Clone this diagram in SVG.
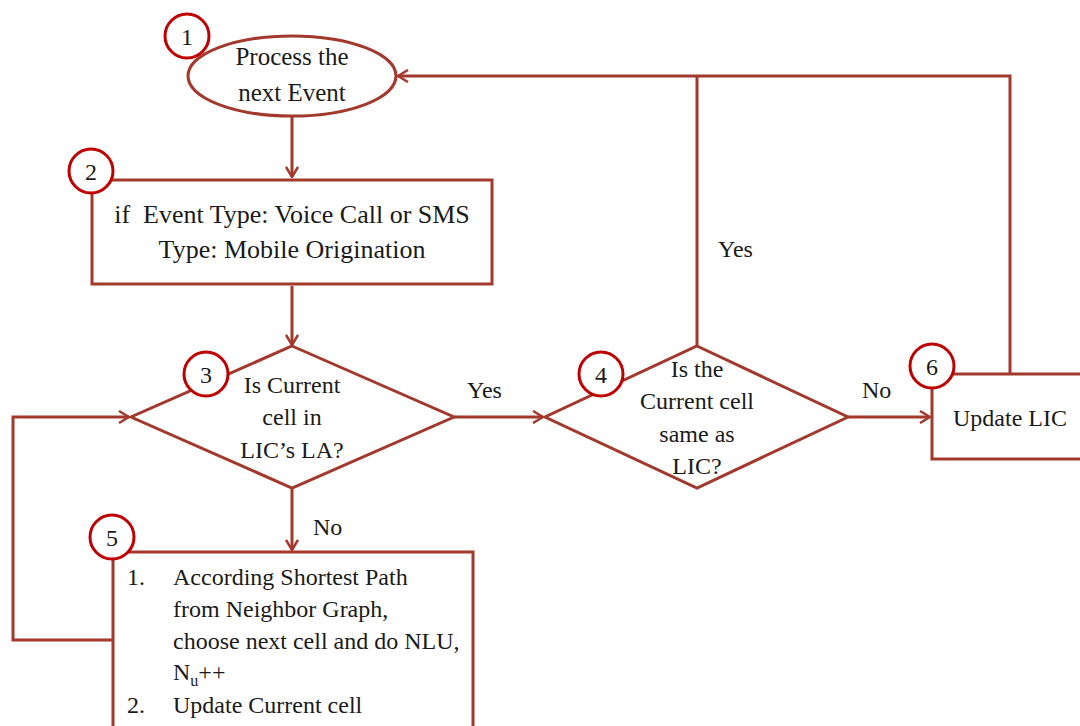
<svg xmlns="http://www.w3.org/2000/svg" width="1080" height="726" viewBox="0 0 1080 726">
<defs>
<style>
.s{fill:#fff;stroke:#a3392d;stroke-width:3}
.c{fill:none;stroke:#a3392d;stroke-width:3}
.n{fill:#fff;stroke:#c00000;stroke-width:3}
text{font-family:"Liberation Serif","Times New Roman",serif;fill:#1a1a1a}
.t{font-size:26px;text-anchor:middle}
.d{font-size:24px;text-anchor:middle}
.l{font-size:24px}
.num{font-size:24px;text-anchor:middle}
</style>
<marker id="a" viewBox="0 0 12 14" refX="11" refY="7" markerWidth="12" markerHeight="14" markerUnits="userSpaceOnUse" orient="auto">
<path d="M1,1 L11,7 L1,13" fill="none" stroke="#a3392d" stroke-width="2.5"/>
</marker>
</defs>
<rect width="1080" height="726" fill="#fff"/>
<g id="connectors">
<path class="c" d="M292,117 V177" marker-end="url(#a)"/>
<path class="c" d="M292,286 V345" marker-end="url(#a)"/>
<path class="c" d="M454,417 H543" marker-end="url(#a)"/>
<path class="c" d="M848,417 H930" marker-end="url(#a)"/>
<path class="c" d="M292,489 V550" marker-end="url(#a)"/>
<path class="c" d="M697,346 V76"/>
<path class="c" d="M1010,374 V76 H398" marker-end="url(#a)"/>
<path class="c" d="M113,640 H13 V417 H129" marker-end="url(#a)"/>
<text class="l" x="467" y="398">Yes</text>
<text class="l" x="718" y="257">Yes</text>
<text class="l" x="862" y="398">No</text>
<text class="l" x="313" y="535">No</text>
</g>
<g id="node1">
<ellipse class="s" cx="292" cy="76" rx="104" ry="40"/>
<text class="t" x="292" y="65" style="font-size:25px">Process the</text>
<text class="t" x="292" y="101" style="font-size:25px">next Event</text>
<circle class="n" cx="187" cy="36" r="22"/>
<text class="num" x="187" y="45">1</text>
</g>
<g id="node2">
<rect class="s" x="92" y="180" width="400" height="104"/>
<text class="t" x="292" y="223" xml:space="preserve">if  Event Type: Voice Call or SMS</text>
<text class="t" x="292" y="258">Type: Mobile Origination</text>
<circle class="n" cx="91" cy="171" r="22"/>
<text class="num" x="91" y="180">2</text>
</g>
<g id="node3">
<polygon class="s" points="292,346 454,417 292,488 131,417"/>
<text class="d" x="292" y="393">Is Current</text>
<text class="d" x="292" y="425">cell in</text>
<text class="d" x="292" y="458">LIC’s LA?</text>
<circle class="n" cx="206" cy="374" r="22"/>
<text class="num" x="206" y="383">3</text>
</g>
<g id="node4">
<polygon class="s" points="697,346 848,417 697,488 545,417"/>
<text class="d" x="697" y="377">Is the</text>
<text class="d" x="697" y="409">Current cell</text>
<text class="d" x="697" y="442">same as</text>
<text class="d" x="697" y="474">LIC?</text>
<circle class="n" cx="601" cy="374" r="22"/>
<text class="num" x="601" y="383">4</text>
</g>
<g id="node5">
<rect class="s" x="113" y="552" width="360" height="190"/>
<text class="l" x="127" y="585">1.</text>
<text class="l" x="173" y="585">According Shortest Path</text>
<text class="l" x="173" y="617">from Neighbor Graph,</text>
<text class="l" x="173" y="649">choose next cell and do NLU,</text>
<text class="l" x="173" y="680">N<tspan font-size="16" dy="6">u</tspan><tspan dy="-6">++</tspan></text>
<text class="l" x="127" y="713">2.</text>
<text class="l" x="173" y="713">Update Current cell</text>
<circle class="n" cx="112" cy="537" r="22"/>
<text class="num" x="112" y="546">5</text>
</g>
<g id="node6">
<rect class="s" x="932" y="374" width="160" height="85"/>
<text class="l" x="1010" y="426" text-anchor="middle">Update LIC</text>
<circle class="n" cx="932" cy="366" r="22"/>
<text class="num" x="932" y="375">6</text>
</g>
</svg>
